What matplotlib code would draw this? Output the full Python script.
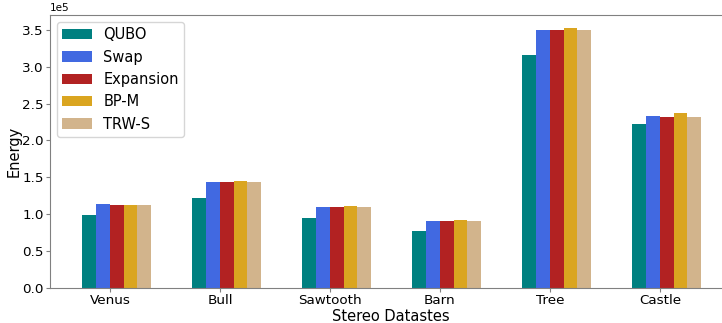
import numpy as np
import matplotlib
matplotlib.use("Agg")
import matplotlib.pyplot as plt

datasets = ["Venus", "Bull", "Sawtooth", "Barn", "Tree", "Castle"]
methods = ["QUBO", "Swap", "Expansion", "BP-M", "TRW-S"]
colors = ["teal", "royalblue", "firebrick", "goldenrod", "tan"]

# energies (x1e5)
qubo = [0.99, 1.225, 0.95, 0.775, 3.16, 2.22]
swap = [1.135, 1.44, 1.10, 0.905, 3.50, 2.33]
expansion = [1.125, 1.44, 1.10, 0.905, 3.50, 2.32]
bpm = [1.13, 1.45, 1.105, 0.92, 3.52, 2.37]
trws = [1.13, 1.44, 1.10, 0.905, 3.49, 2.32]
energies = [qubo, swap, expansion, bpm, trws]

W, H = 722, 323
fig = plt.figure(figsize=(W / 100, H / 100), dpi=100)
ax = fig.add_axes([50 / W, 35 / H, 682 / W, 273 / H])

x = np.arange(len(datasets))
width = 0.125
for i, (name, vals, c) in enumerate(zip(methods, energies, colors)):
    ax.bar(x + (i - 2) * width, np.array(vals) * 1e5, width, align="edge",
           color=c, label=name)

ax.set_xticks(x)
ax.set_xticklabels(datasets)
ax.set_xlim(-0.545, 5.656)
ax.set_ylim(0, 3.70e5)
ax.set_yticks(np.arange(0, 3.6e5, 0.5e5))
ax.ticklabel_format(axis="y", style="sci", scilimits=(5, 5))
ax.yaxis.get_offset_text().set_fontsize(7.5)
ax.tick_params(labelsize=9.7, length=3, pad=1.5, colors="gray",
               labelcolor="black")
for s in ax.spines.values():
    s.set_color("gray")

ax.set_xlabel("Stereo Datastes", fontsize=10.5, labelpad=1)
ax.set_ylabel("Energy", fontsize=10.5)
ax.yaxis.set_label_coords(-0.041, 0.5)
ax.legend(loc="upper left", fontsize=10.5, borderpad=0.35)

fig.savefig("out.png", dpi=100)
